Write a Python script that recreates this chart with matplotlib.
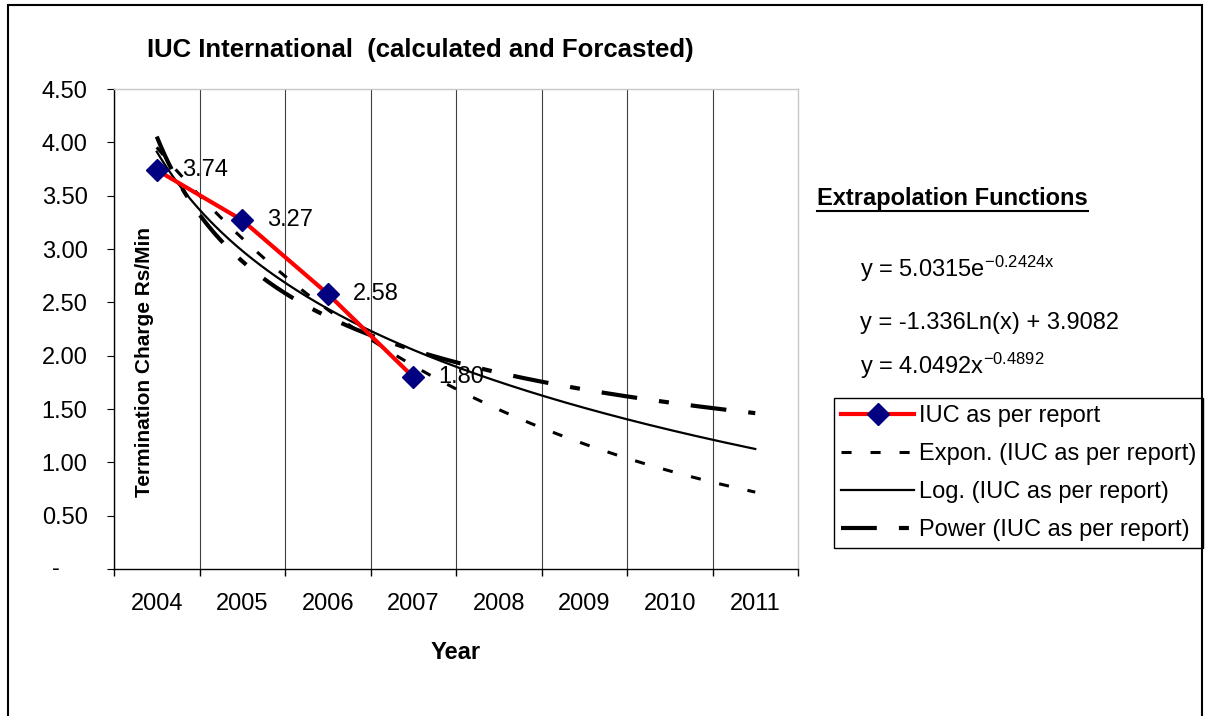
import numpy as np
import matplotlib
matplotlib.use('Agg')
import matplotlib.pyplot as plt
from matplotlib.patches import Rectangle
from matplotlib.lines import Line2D

plt.rcParams['font.family'] = 'Liberation Sans'
plt.rcParams['mathtext.fontset'] = 'custom'
plt.rcParams['mathtext.rm'] = 'Liberation Sans'
plt.rcParams['mathtext.it'] = 'Liberation Sans:italic'
plt.rcParams['mathtext.bf'] = 'Liberation Sans:bold'

# data
years = ['2004', '2005', '2006', '2007', '2008', '2009', '2010', '2011']
iuc_pos = [1, 2, 3, 4]          # category index of 2004..2007
iuc_values = [3.74, 3.27, 2.58, 1.80]
y_ticks = [0, 0.5, 1.0, 1.5, 2.0, 2.5, 3.0, 3.5, 4.0, 4.5]
y_tick_labels = ['', '0.50', '1.00', '1.50', '2.00', '2.50', '3.00', '3.50', '4.00', '4.50']
equations = [r'y = 5.0315e$^{\mathregular{-0.2424x}}$',
             r'y = -1.336Ln(x) + 3.9082',
             r'y = 4.0492x$^{\mathregular{-0.4892}}$']
legend_labels = ['IUC as per report', 'Expon. (IUC as per report)',
                 'Log. (IUC as per report)', 'Power (IUC as per report)']

# trend lines fitted from the data, like Excel does
x = np.array(iuc_pos, dtype=float)
y = np.array(iuc_values)
xs = np.linspace(1, len(years), 300)
b_exp, a_exp = np.polyfit(x, np.log(y), 1)
exp_fit = np.exp(a_exp) * np.exp(b_exp * xs)
m_log, c_log = np.polyfit(np.log(x), y, 1)
log_fit = m_log * np.log(xs) + c_log
p_pow, a_pow = np.polyfit(np.log(x), np.log(y), 1)
pow_fit = np.exp(a_pow) * xs ** p_pow

W, H = 1209, 716
fig = plt.figure(figsize=(W / 100, H / 100), dpi=100)
ax = fig.add_axes([114 / W, 1 - 569 / H, 684 / W, 480 / H])

l_exp, = ax.plot(xs, exp_fit, color='black', lw=2.2, dashes=(3.3, 6.2))
l_log, = ax.plot(xs, log_fit, color='black', lw=1.6)
l_pow, = ax.plot(xs, pow_fit, color='black', lw=3, dashes=(8.6, 5.3, 2.4, 5.3))
l_iuc, = ax.plot(iuc_pos, iuc_values, color='red', lw=3, marker='D', ms=11,
                 mfc='#000080', mec='#000080', zorder=5)

for xi, yi in zip(iuc_pos, iuc_values):
    ax.annotate(f'{yi:.2f}', (xi, yi), xytext=(18, 0), textcoords='offset points',
                ha='left', va='center', fontsize=17)

ax.set_xlim(0.5, len(years) + 0.5)
ax.set_ylim(0, 4.5)

ax.set_xticks(range(1, len(years) + 1))
ax.set_xticklabels(years)
ax.set_xticks(np.arange(0.5, len(years) + 1, 1), minor=True)
ax.tick_params(axis='x', which='major', length=0, pad=17, labelsize=17)
ax.tick_params(axis='x', which='minor', length=5, direction='out', width=1)
ax.xaxis.grid(True, which='minor', color='#404040', lw=0.8)
ax.xaxis.get_minor_ticks()[-1].gridline.set_visible(False)

ax.set_yticks(y_ticks)
ax.set_yticklabels(y_tick_labels)
ax.set_yticks(y_ticks[1:-1], minor=True)
ax.tick_params(axis='y', which='major', length=5, direction='out', pad=14, labelsize=17)
ax.tick_params(axis='y', which='minor', length=0)
ax.yaxis.grid(True, which='minor', color='black', lw=0.8)
ax.set_axisbelow(True)
ax.annotate('-', xy=(0, 0), xycoords=('axes fraction', 'data'), xytext=(-54, 0),
            textcoords='offset pixels', ha='right', va='center', fontsize=17)

for s in ['left', 'bottom']:
    ax.spines[s].set_color('black')
    ax.spines[s].set_linewidth(1)
for s in ['top', 'right']:
    ax.spines[s].set_color('#c8c8c8')
    ax.spines[s].set_linewidth(1)

ax.set_xlabel('Year', fontsize=17, fontweight='bold')
ax.xaxis.set_label_coords(0.5, -0.15)

fig.text(144 / W, 1 - 362 / H, 'Termination Charge Rs/Min', rotation=90,
         ha='center', va='center', fontsize=15, fontweight='bold')
fig.text(147 / W, 1 - 50 / H, 'IUC International  (calculated and Forcasted)',
         ha='left', va='center', fontsize=18.5, fontweight='bold')

head = fig.text(817 / W, 1 - 205 / H, 'Extrapolation Functions', ha='left',
                va='baseline', fontsize=17, fontweight='bold')
for eq, yb in zip(equations, [277, 329, 374]):
    fig.text(860 / W, 1 - yb / H, eq, ha='left', va='baseline', fontsize=17)

leg = ax.legend([l_iuc, l_exp, l_log, l_pow], legend_labels, loc='upper left',
                bbox_to_anchor=(834 / W, 1 - 398 / H), bbox_transform=fig.transFigure,
                fontsize=17, fancybox=False, edgecolor='black', framealpha=1,
                handlelength=3.1, handletextpad=0.2, borderpad=0.3,
                labelspacing=0.68, borderaxespad=0, numpoints=1)
leg.get_frame().set_linewidth(1)

# outer chart border
fig.add_artist(Rectangle((8 / W, -0.1), (1202 - 8) / W, 1 - 5 / H + 0.1,
                         transform=fig.transFigure, fill=False, ec='black', lw=1.5))

# underline the heading
fig.canvas.draw()
bb = head.get_window_extent()
fig.add_artist(Line2D([bb.x0 / W, bb.x1 / W], [(bb.y0 - 1) / H, (bb.y0 - 1) / H],
                      transform=fig.transFigure, color='black', lw=1.5))

fig.savefig('out.png', dpi=100)
